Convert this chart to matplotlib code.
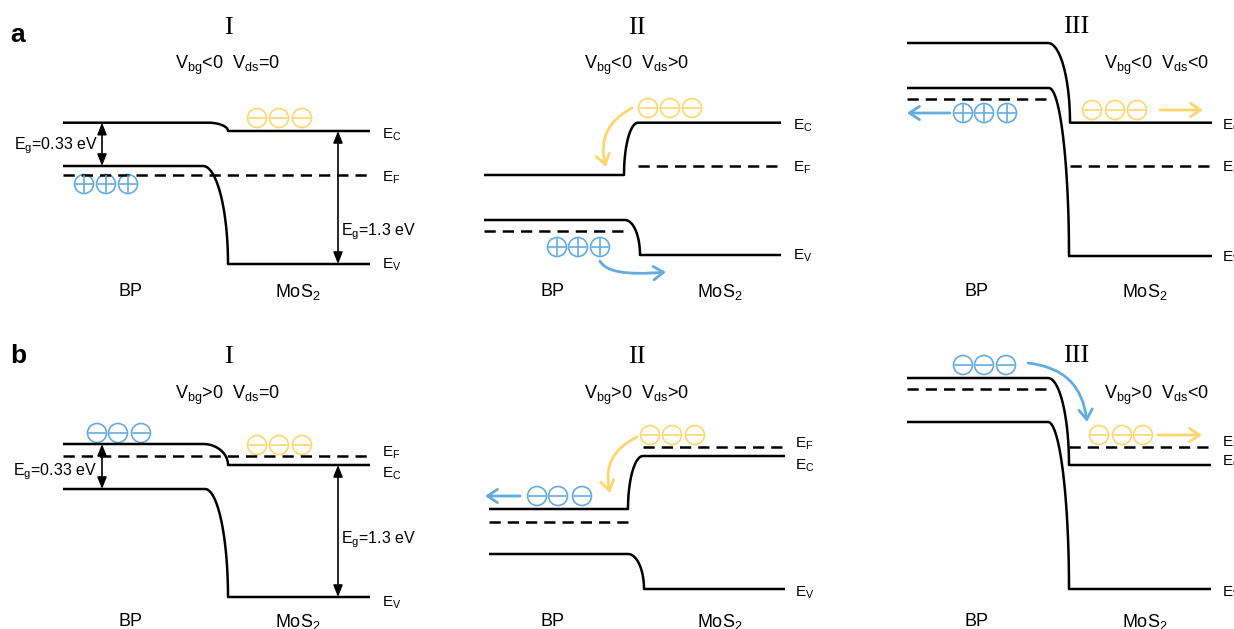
import numpy as np
import matplotlib
import matplotlib.pyplot as plt
from matplotlib.patches import Circle, FancyArrowPatch

matplotlib.use('agg')
plt.rcParams.update({
    'font.family': 'Liberation Sans',
    'mathtext.fontset': 'custom',
    'mathtext.rm': 'Liberation Sans',
    'mathtext.it': 'Liberation Sans:italic',
})

BLUE = '#62ACE0'
YELLOW = '#FFD66E'

# panels in order a-I, a-II, a-III, b-I, b-II, b-III  (pixel units, y grows downward)
ROMAN = ['I', 'II', 'III', 'I', 'II', 'III']
ROMAN_X = [228, 637, 1076, 228, 637, 1076]
ROMAN_Y = [28, 28, 27, 357, 357, 356]
BIAS = [r'V$_{\rm bg}$<0  V$_{\rm ds}$=0', r'V$_{\rm bg}$<0  V$_{\rm ds}$>0',
        r'V$_{\rm bg}$<0  V$_{\rm ds}$<0', r'V$_{\rm bg}$>0  V$_{\rm ds}$=0',
        r'V$_{\rm bg}$>0  V$_{\rm ds}$>0', r'V$_{\rm bg}$>0  V$_{\rm ds}$<0']
BIAS_X = [228, 637, 1157, 228, 637, 1157]
BIAS_Y = [65, 65, 65, 395, 395, 395]

X_LEFT = [63, 484, 907, 63, 489, 907]
X_RIGHT = [370, 781, 1212, 370, 785, 1211]
BP_EC = [122.7, 175, 43, 444, 509, 378]
BP_EV = [166, 220, 88, 489, 554, 422]
BP_EF = [175, 231, 99, 456, 522, 389]
MOS2_EC = [131, 122.7, 122.7, 465, 456, 465]
MOS2_EV = [264, 255, 256, 597, 589, 589]
MOS2_EF = [175, 166, 166, 456, 447, 447]
EC_BEND = [(208, 228), (624, 638), (1048, 1070), (203, 228), (628, 643), (1048, 1069)]
EV_BEND = [(203, 228), (625, 640), (1049, 1069), (205, 228), (628, 644), (1048, 1069)]
EF_SPLIT = [False, True, True, False, True, True]

LABEL_X = [382, 793, 1222, 382, 795, 1222]
EC_LABEL_Y = [135, 126, 126, 474, 466, 462]
EF_LABEL_Y = [178, 168, 168, 453, 444, 443]
EV_LABEL_Y = [265, 256, 258, 603, 593, 593]

BP_X = [130, 552, 977, 130, 552, 977]
MOS2_X = [298, 720, 1145, 298, 720, 1145]
NAME_Y = [292, 292, 292, 622, 622, 622]

# carrier groups: centres, row, sign, colour
CHARGE_X = [[257, 279, 302], [84, 106, 128],
            [648, 670, 692], [557, 578, 600],
            [963, 984, 1007], [1092, 1115, 1137],
            [97, 118, 141], [257, 279, 302],
            [650, 672, 695], [537, 558, 582],
            [963, 984, 1006], [1099, 1122, 1143]]
CHARGE_Y = [118, 184, 108, 247, 113, 110, 433, 445, 435, 496, 365, 435]
CHARGE_SIGN = ['-', '+', '-', '+', '+', '-', '-', '-', '-', '-', '-', '-']
CHARGE_COLOR = [YELLOW, BLUE, YELLOW, BLUE, BLUE, YELLOW,
                BLUE, YELLOW, YELLOW, BLUE, BLUE, YELLOW]

# carrier flow arrows: start, end, path shape, colour
FLOW_START = [(950, 113), (1160, 110), (520, 496), (1158, 435),
              (632, 108), (600, 261), (637, 437), (1028, 363)]
FLOW_END = [(907, 113), (1203, 110), (485, 496), (1202, 435),
            (606, 167), (666, 272), (610, 493), (1087, 422)]
FLOW_PATH = ['arc3,rad=0', 'arc3,rad=0', 'arc3,rad=0', 'arc3,rad=0',
             'arc3,rad=0.4', 'angle3,angleA=-65,angleB=5',
             'arc3,rad=0.4', 'arc3,rad=-0.4']
FLOW_COLOR = [BLUE, YELLOW, BLUE, YELLOW, YELLOW, BLUE, YELLOW, BLUE]

# band gaps marked in the equilibrium panels
GAP_PANELS = [0, 3]
GAP_BP_X = 102
GAP_MOS2_X = 338
GAP_BP_TEXT = r'E$_{\rm g}$=0.33 eV'
GAP_MOS2_TEXT = r'E$_{\rm g}$=1.3 eV'
GAP_BP_TEXT_XY = [(56, 146), (55, 472)]
GAP_MOS2_TEXT_XY = [(379, 232), (379, 540)]


def bend(x0, x1, y0, y1, n=40):
    """Quarter-ellipse step between two band levels."""
    t = np.linspace(0, np.pi / 2, n)
    if y1 > y0:
        # falling edge: flat start, vertical finish
        return x0 + (x1 - x0) * np.sin(t), y0 + (y1 - y0) * (1 - np.cos(t))
    # rising edge: vertical start, flat finish
    return x1 - (x1 - x0) * np.cos(t), y0 - (y0 - y1) * np.sin(t)


def band(ax, xl, xr, xb, yl, yr):
    bx, by = bend(xb[0], xb[1], yl, yr)
    xs = np.concatenate([[xl], bx, [xr]])
    ys = np.concatenate([[yl], by, [yr]])
    ax.plot(xs, ys, color='black', lw=1.8, solid_capstyle='butt')


def dashed(ax, x0, x1, y):
    ax.plot([x0, x1], [y, y], color='black', lw=1.8, dashes=(4.5, 2.8))


def charge(ax, x, y, sign, color, r=9.5):
    ax.add_patch(Circle((x, y), r, fill=False, ec=color, lw=1.2))
    d = 0.8 * r
    ax.plot([x - d, x + d], [y, y], color=color, lw=1.2)
    if sign == '+':
        ax.plot([x, x], [y - d, y + d], color=color, lw=1.2)


fig = plt.figure(figsize=(12.34, 6.29), dpi=100)
ax = fig.add_axes([0, 0, 1, 1])
ax.set_xlim(0, 1234)
ax.set_ylim(629, 0)
ax.axis('off')

for i in range(6):
    xl, xr = X_LEFT[i], X_RIGHT[i]
    band(ax, xl, xr, EC_BEND[i], BP_EC[i], MOS2_EC[i])
    band(ax, xl, xr, EV_BEND[i], BP_EV[i], MOS2_EV[i])
    if EF_SPLIT[i]:
        dashed(ax, xl, EC_BEND[i][0] + 3, BP_EF[i])
        dashed(ax, EC_BEND[i][1], xr, MOS2_EF[i])
    else:
        dashed(ax, xl, xr, BP_EF[i])

    lx = LABEL_X[i]
    ax.text(lx, EC_LABEL_Y[i], r'E$_{\rm C}$', fontsize=11, va='center')
    ax.text(lx, EF_LABEL_Y[i], r'E$_{\rm F}$', fontsize=11, va='center')
    ax.text(lx, EV_LABEL_Y[i], r'E$_{\rm V}$', fontsize=11, va='center')

    ax.text(BP_X[i], NAME_Y[i], 'BP', fontsize=13, ha='center', va='center')
    ax.text(MOS2_X[i], NAME_Y[i], r'MoS$_2$', fontsize=13, ha='center', va='center')
    ax.text(BIAS_X[i], BIAS_Y[i], BIAS[i], fontsize=13, ha='center', va='center')
    ax.text(ROMAN_X[i], ROMAN_Y[i], ROMAN[i], fontsize=19, ha='center',
            va='center', family='Liberation Serif')

for xs, y, s, c in zip(CHARGE_X, CHARGE_Y, CHARGE_SIGN, CHARGE_COLOR):
    for x in xs:
        charge(ax, x, y, s, c)

for p0, p1, path, c in zip(FLOW_START, FLOW_END, FLOW_PATH, FLOW_COLOR):
    ax.add_patch(FancyArrowPatch(p0, p1, connectionstyle=path,
                                 arrowstyle='->,head_length=0.45,head_width=0.3',
                                 mutation_scale=16, color=c, lw=2,
                                 shrinkA=0, shrinkB=0))

for k, i in enumerate(GAP_PANELS):
    for x, y0, y1 in [(GAP_BP_X, BP_EC[i], BP_EV[i]),
                      (GAP_MOS2_X, MOS2_EC[i], MOS2_EV[i])]:
        ax.add_patch(FancyArrowPatch((x, y0), (x, y1),
                                     arrowstyle='<|-|>,head_length=0.5,head_width=0.2',
                                     mutation_scale=14, color='black', lw=1.2,
                                     shrinkA=0, shrinkB=0))
    ax.text(*GAP_BP_TEXT_XY[k], GAP_BP_TEXT, fontsize=11.5, ha='center', va='center')
    ax.text(*GAP_MOS2_TEXT_XY[k], GAP_MOS2_TEXT, fontsize=11.5, ha='center', va='center')

ax.text(18, 35, 'a', fontsize=19, fontweight='bold', ha='center', va='center')
ax.text(18, 356, 'b', fontsize=19, fontweight='bold', ha='center', va='center')

fig.savefig('out.png', dpi=100)
